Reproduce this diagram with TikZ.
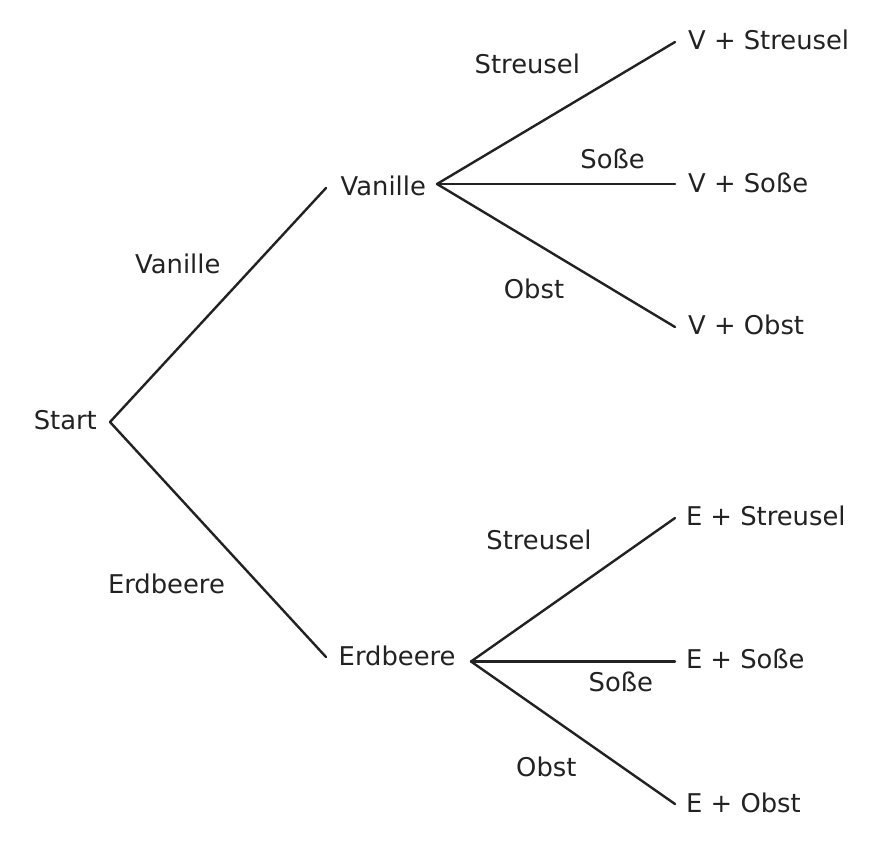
\documentclass[tikz,border=0pt]{standalone}
\usepackage{fontspec}
\setmainfont{DejaVu Sans}
\definecolor{ink}{HTML}{222222}
\begin{document}
\begin{tikzpicture}[x=1pt,y=-1pt,
  txt/.style={inner sep=0pt,anchor=base west,text=ink,font=\fontsize{25.8}{30}\selectfont},
  branch/.style={draw=ink,line width=2.4pt,line cap=round}]
\useasboundingbox[fill=white] (0,0) rectangle (883,847);
% text nodes
\node[txt] (start) at (33.6,429.5) {Start};
\node[txt] (van) at (340.5,195.9) {Vanille};
\node[txt] (erd) at (338.5,665.2) {Erdbeere};
\node[txt] (vs) at (688,49.5) {V + Streusel};
\node[txt] (vso) at (688,192) {V + Soße};
\node[txt] (vo) at (688,334.8) {V + Obst};
\node[txt] (es) at (685.8,525.8) {E + Streusel};
\node[txt] (eso) at (685.8,668.8) {E + Soße};
\node[txt] (eo) at (686,812.8) {E + Obst};
% edge labels
\node[txt] (lvan) at (135,273.5) {Vanille};
\node[txt] (lerd) at (107.8,593.5) {Erdbeere};
\node[txt] (lvs) at (474.5,73.5) {Streusel};
\node[txt] (lvso) at (580.2,168) {Soße};
\node[txt] (lvo) at (503.7,298.5) {Obst};
\node[txt] (les) at (486.2,549.5) {Streusel};
\node[txt] (leso) at (588.5,691) {Soße};
\node[txt] (leo) at (516,776) {Obst};
% connector points
\coordinate (r) at (110,422);
\coordinate (vin) at (326,188);
\coordinate (ein) at (326,657);
\coordinate (vout) at (437,184);
\coordinate (eout) at (471,661.5);
\coordinate (vsin) at (675,42);
\coordinate (vsoin) at (675,184);
\coordinate (voin) at (675,327);
\coordinate (esin) at (675,518);
\coordinate (esoin) at (675,661.5);
\coordinate (eoin) at (675,804);
% connectors
\draw[branch] (r) -- (vin);
\draw[branch] (r) -- (ein);
\draw[branch] (vout) -- (vsin);
\draw[branch] (vout) -- (vsoin);
\draw[branch] (vout) -- (voin);
\draw[branch] (eout) -- (esin);
\draw[branch] (eout) -- (esoin);
\draw[branch] (eout) -- (eoin);
\end{tikzpicture}
\end{document}
